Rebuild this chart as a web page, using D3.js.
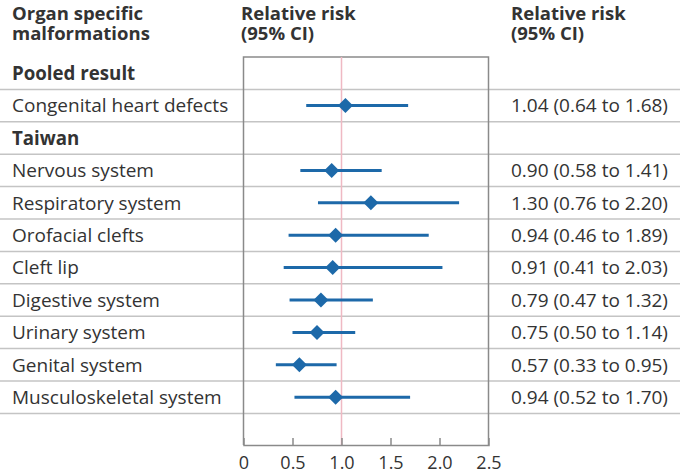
<!DOCTYPE html>
<html>
<head>
<meta charset="utf-8">
<script src="https://cdn.jsdelivr.net/npm/d3@7"></script>
<style>
  body { margin: 0; background: #fff; }
  svg { display: block; font-family: "Open Sans", sans-serif; }
</style>
</head>
<body>
<div id="chart"></div>
<script>
// Data
const labels = ['Pooled result', 'Congenital heart defects', 'Taiwan', 'Nervous system',
  'Respiratory system', 'Orofacial clefts', 'Cleft lip', 'Digestive system',
  'Urinary system', 'Genital system', 'Musculoskeletal system']
const isHeader = [true, false, true, false, false, false, false, false, false, false, false]
const rr = [null, 1.04, null, 0.90, 1.30, 0.94, 0.91, 0.79, 0.75, 0.57, 0.94]
const lower = [null, 0.64, null, 0.58, 0.76, 0.46, 0.41, 0.47, 0.50, 0.33, 0.52]
const upper = [null, 1.68, null, 1.41, 2.20, 1.89, 2.03, 1.32, 1.14, 0.95, 1.70]
const ciText = ['', '1.04 (0.64 to 1.68)', '', '0.90 (0.58 to 1.41)', '1.30 (0.76 to 2.20)',
  '0.94 (0.46 to 1.89)', '0.91 (0.41 to 2.03)', '0.79 (0.47 to 1.32)', '0.75 (0.50 to 1.14)',
  '0.57 (0.33 to 0.95)', '0.94 (0.52 to 1.70)']
const xTicks = [0, 0.5, 1.0, 1.5, 2.0, 2.5]
const headerLines = [['Organ specific', 'malformations'], ['Relative risk', '(95% CI)'], ['Relative risk', '(95% CI)']]

const rows = labels.map((d, i) => ({
  label: d, header: isHeader[i], rr: rr[i], lo: lower[i], hi: upper[i], text: ciText[i]
}))

// Dimensions
const width = 680, height = 473
const rowH = 32.4
const plotTop = 57
const plotLeft = 243.5, plotRight = 488.5
const plotBottom = 445
const colX = [12, 241, 511]

const textColor = '#333'
const blue = '#1d69a9'

const svg = d3.select('#chart').append('svg')
  .attr('width', width).attr('height', height)

// Scales
const xScale = d3.scaleLinear().domain([0, 2.5]).range([plotLeft, plotRight])
const yScale = d3.scaleBand()
  .domain(d3.range(rows.length))
  .range([plotTop, plotTop + rowH * rows.length])

// Header (one text per column, two lines)
svg.append('g')
  .attr('font-weight', 700).attr('font-size', 18.5).attr('fill', textColor)
  .selectAll('text')
  .data(headerLines)
  .join('text')
  .attr('x', (d, i) => colX[i])
  .attr('y', 19.5)
  .selectAll('tspan')
  .data(d => d)
  .join('tspan')
  .attr('x', function () { return this.parentNode.getAttribute('x') })
  .attr('dy', (d, i) => i === 0 ? 0 : 20.5)
  .text(d => d)

// Row separators
svg.append('g').selectAll('line')
  .data(rows)
  .join('line')
  .attr('x1', 0).attr('x2', width)
  .attr('y1', (d, i) => yScale(i) + rowH)
  .attr('y2', (d, i) => yScale(i) + rowH)
  .attr('stroke', '#c4c4c4').attr('stroke-width', 1.5)

// Plot box
svg.append('path')
  .attr('d', `M${plotLeft},${plotBottom}V${plotTop}H${plotRight}V${plotBottom}`)
  .attr('fill', 'none').attr('stroke', '#8a8a8a').attr('stroke-width', 1.5)

// Reference line at 1
svg.append('line')
  .attr('x1', xScale(1)).attr('x2', xScale(1))
  .attr('y1', plotTop).attr('y2', plotBottom)
  .attr('stroke', '#efb9c3').attr('stroke-width', 1.5)

// Axis
const axis = svg.append('g')
  .attr('transform', `translate(0, ${plotBottom})`)
  .call(d3.axisBottom(xScale).tickValues(xTicks).tickSize(-7)
    .tickFormat(d => d === 0 ? '0' : d3.format('.1f')(d)))
axis.select('.domain').attr('stroke', '#8a8a8a').attr('stroke-width', 1.5)
axis.selectAll('.tick line').attr('stroke', '#8a8a8a').attr('stroke-width', 1.5)
  .filter(d => d === 0 || d === 2.5).remove()
axis.selectAll('.tick text')
  .attr('font-family', '"Open Sans", sans-serif')
  .attr('font-size', 18).attr('fill', textColor)
  .attr('dy', '0.36em').attr('y', 18)

// Labels
svg.append('g').selectAll('text')
  .data(rows)
  .join('text')
  .attr('x', colX[0])
  .attr('y', (d, i) => yScale(i) + rowH / 2)
  .attr('dy', '0.36em')
  .attr('font-size', d => d.header ? 18.7 : 19)
  .attr('font-weight', d => d.header ? 700 : 400)
  .attr('fill', textColor)
  .text(d => d.label)

// CI text
svg.append('g').selectAll('text')
  .data(rows.filter(d => d.text))
  .join('text')
  .attr('x', colX[2])
  .attr('y', d => yScale(rows.indexOf(d)) + rowH / 2)
  .attr('dy', '0.36em')
  .attr('font-size', 19)
  .attr('fill', textColor)
  .text(d => d.text)

// Estimates
const est = rows.filter(d => d.rr !== null)
const marks = svg.append('g')
marks.selectAll('line')
  .data(est)
  .join('line')
  .attr('x1', d => xScale(d.lo)).attr('x2', d => xScale(d.hi))
  .attr('y1', d => yScale(rows.indexOf(d)) + rowH / 2)
  .attr('y2', d => yScale(rows.indexOf(d)) + rowH / 2)
  .attr('stroke', blue).attr('stroke-width', 3)
const s = 7.5
marks.selectAll('path')
  .data(est)
  .join('path')
  .attr('transform', d => `translate(${xScale(d.rr)}, ${yScale(rows.indexOf(d)) + rowH / 2})`)
  .attr('d', `M0,${-s}L${s},0L0,${s}L${-s},0Z`)
  .attr('fill', blue)
</script>
</body>
</html>
